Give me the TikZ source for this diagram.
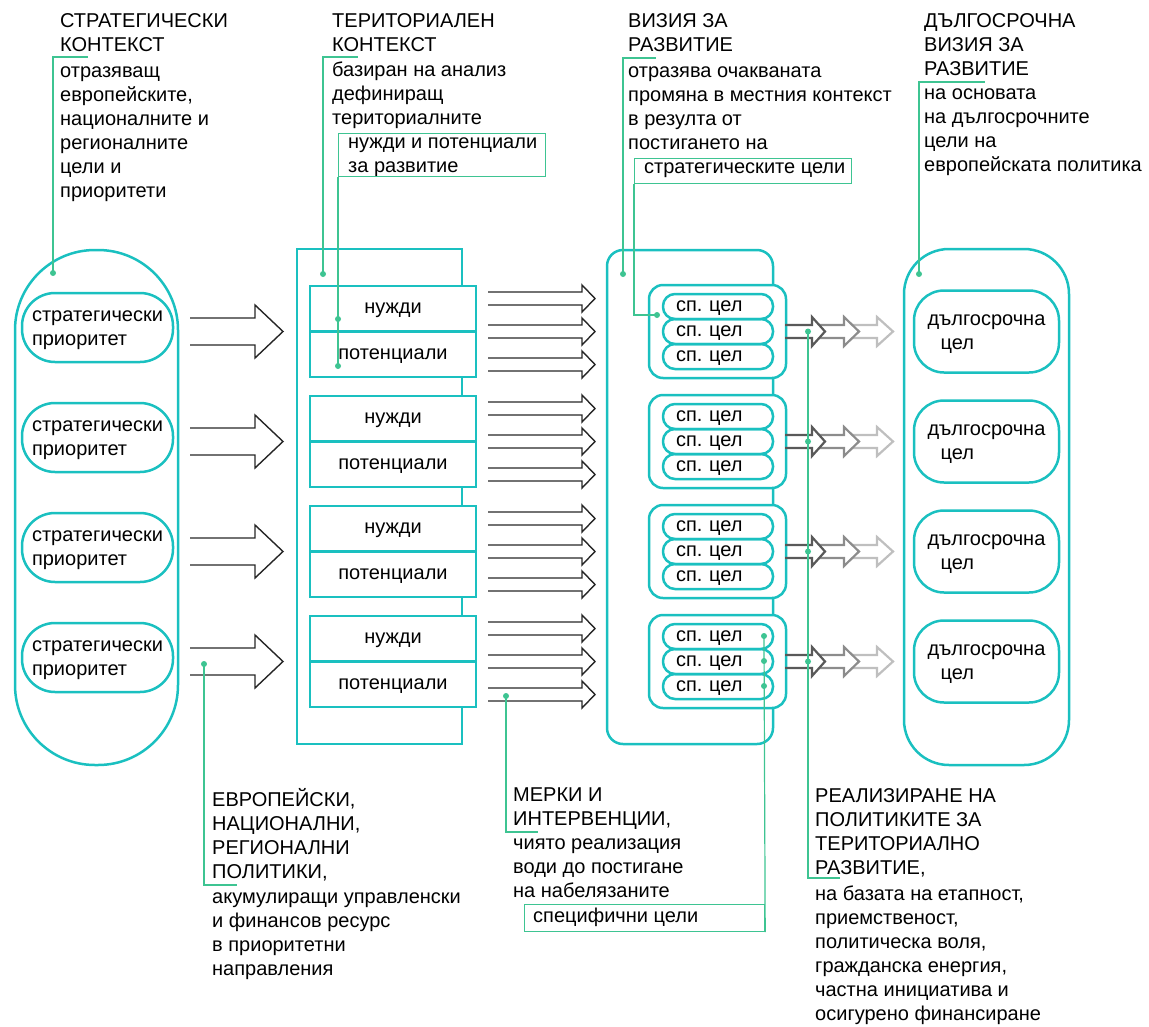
\documentclass[tikz,border=0pt]{standalone}
\usepackage{fontspec}
\setmainfont{Liberation Sans}
\usepackage{tikz}

\definecolor{ctxteal}{RGB}{26,192,192}
\definecolor{leadgreen}{RGB}{62,196,146}

% open-tailed block arrow: start x, head base x, tip x, y, half shaft, half head
\newcommand{\openarrow}[6]{(#1,#4-#5) -- (#2,#4-#5) -- (#2,#4-#6) -- (#3,#4) -- (#2,#4+#6) -- (#2,#4+#5) -- (#1,#4+#5)}

\begin{document}
\begin{tikzpicture}[x=1pt, y=-1pt, font=\fontsize{20}{24}\selectfont,
	frame/.style={draw=ctxteal, line width=2.5pt},
	prio/.style={frame, rounded corners=33pt, minimum width=151pt, minimum height=69pt, align=left, text height=39.6pt},
	cell/.style={frame, fill=white, minimum width=166pt, minimum height=45.5pt, text height=13pt, text depth=3pt},
	grp/.style={frame, fill=white, rounded corners=14pt, minimum width=137pt, minimum height=93pt},
	goal/.style={frame, rounded corners=12pt, minimum width=110pt, minimum height=25pt, inner xsep=13pt, inner ysep=0pt, text width=84pt, align=left, text height=13pt, text depth=3pt},
	ltgoal/.style={frame, rounded corners=30pt, minimum width=145pt, minimum height=82pt, align=left, text height=39.6pt},
	note/.style={anchor=north west, align=left, inner sep=0pt},
	lead/.style={draw=leadgreen, line width=1.2pt},
	leadbox/.style={lead, anchor=north west, inner sep=0pt},
	leaddot/.style={circle, fill=leadgreen, inner sep=0pt, minimum size=6pt},
	hollow/.style={draw=black!85, line width=1.4pt, line join=miter},
	fade/.style={hollow, line width=2.2pt, draw=black!#1},
]
		\useasboundingbox (0,0) rectangle (1149,1026);
		%
		\node[frame, rounded corners=80pt, minimum width=163pt, minimum height=515pt] (stratcol) at (96.5,507.5) {};
		\node[frame, minimum width=165pt, minimum height=495pt] (tercol) at (379.5,496.5) {};
		\node[frame, rounded corners=16pt, minimum width=166pt, minimum height=494pt] (viscol) at (690,497) {};
		\node[frame, rounded corners=45pt, minimum width=165pt, minimum height=516pt] (ltcol) at (986.5,507) {};
		%
		\foreach \k in {0,...,3} {
			\pgfmathsetmacro\yc{331.5+110*\k}
			\node[prio] (prio\k) at (97.5,\yc-4) {стратегически\\приоритет};
			\node[cell] (need\k) at (393,\yc-22.75) {нужди};
			\node[cell] (pot\k) at (393,\yc+22.75) {потенциали};
			\node[grp] (grp\k) at (717.5,\yc) {};
			\foreach \j in {-1,0,1}
				\node[goal] (sp\k\j) at (718,\yc+25*\j) {сп.\ цел};
			\node[ltgoal] (lt\k) at (986.5,\yc) {дългосрочна\\\hspace*{13pt}цел};
			%
			\draw[hollow] \openarrow{190}{255}{283}{\yc}{13.5}{26.5};
			\foreach \d in {-33,0,33}
				\draw[hollow] \openarrow{488}{582}{595}{\yc+\d}{6.5}{13.5};
			\draw[fade=25] \openarrow{852}{877}{893}{\yc}{6.5}{14.5};
			\draw[fade=45] \openarrow{819}{844}{859}{\yc}{6.5}{14.5};
			\draw[fade=65] \openarrow{785}{812}{825}{\yc}{6.5}{14.5};
		}
		%
		\node[note] (stratctx) at (60,10) {\strut СТРАТЕГИЧЕСКИ\\КОНТЕКСТ\\[2pt]отразяващ\\европейските,\\националните и\\регионалните\\цели и\\приоритети};
		\node[note] (terctx) at (332,10) {\strut ТЕРИТОРИАЛЕН\\КОНТЕКСТ\\[1pt]базиран на анализ\\дефиниращ\\териториалните};
		\node[note] (needtxt) at (348,131) {\strut нужди и потенциали\\за развитие};
		\node[note] (visctx) at (628,10) {\strut ВИЗИЯ ЗА\\РАЗВИТИЕ\\[2pt]отразява очакваната\\промяна в местния контекст\\в резулта от\\постигането на};
		\node[note] (sgtxt) at (644,156) {\strut стратегическите цели};
		\node[note] (ltctx) at (924,10) {\strut ДЪЛГОСРОЧНА\\ВИЗИЯ ЗА\\РАЗВИТИЕ\\на основата\\на дългосрочните\\цели на\\европейската политика};
		\node[note] (eupol) at (212,788) {\strut ЕВРОПЕЙСКИ,\\НАЦИОНАЛНИ,\\РЕГИОНАЛНИ\\ПОЛИТИКИ,\\[1pt]акумулиращи управленски\\и финансов ресурс\\в приоритетни\\направления};
		\node[note] (measures) at (513,784) {\strut МЕРКИ И\\ИНТЕРВЕНЦИИ,\\чиято реализация\\води до постигане\\на набелязаните};
		\node[note] (sptxt) at (533,905) {\strut специфични цели};
		\node[note] (policy) at (815,785) {\strut РЕАЛИЗИРАНЕ НА\\ПОЛИТИКИТЕ ЗА\\ТЕРИТОРИАЛНО\\РАЗВИТИЕ,\\[2pt]на базата на етапност,\\приемственост,\\политическа воля,\\гражданска енергия,\\частна инициатива и\\осигурено финансиране};
		%
		\node[leaddot] (stratdot) at (53,273) {};
		\coordinate (stratend) at (88,57);
		\draw[lead] (stratdot.center) |- (stratend);
		%
		\node[leaddot] (terdot) at (323,274) {};
		\coordinate (terend) at (358,57);
		\draw[lead] (terdot.center) |- (terend);
		\node[leadbox, minimum width=207pt, minimum height=43pt] (needbox) at (338,133) {};
		\node[leaddot] (needdot) at (338,319) {};
		\node[leaddot] (potdot) at (338,366) {};
		\draw[lead] (needbox.south west) -- (potdot.center);
		%
		\node[leaddot] (visdot) at (623,274) {};
		\coordinate (visend) at (656,58);
		\draw[lead] (visdot.center) |- (visend);
		\node[leadbox, minimum width=217pt, minimum height=25pt] (sgbox) at (634,158) {};
		\node[leaddot] (sgdot) at (657,315) {};
		\draw[lead] (sgbox.south west) |- (sgdot.center);
		%
		\node[leaddot] (ltdot) at (919,274) {};
		\coordinate (ltend) at (985,82);
		\draw[lead] (ltdot.center) |- (ltend);
		%
		\node[leaddot] (eudot) at (204,664) {};
		\coordinate (euend) at (237,885);
		\draw[lead] (eudot.center) |- (euend);
		%
		\node[leaddot] (medot) at (506,696) {};
		\coordinate (meend) at (538,832);
		\draw[lead] (medot.center) |- (meend);
		\node[leadbox, minimum width=240pt, minimum height=27pt] (spbox) at (524,904) {};
		\foreach \j in {-1,0,1}
			\node[leaddot] (spdot\j) at (764,661+25*\j) {};
		\draw[lead] (spdot-1.center) -- (spbox.south east);
		%
		\foreach \k in {0,...,3}
			\node[leaddot] (poldot\k) at (808,331.5+110*\k) {};
		\coordinate (polend) at (840,878);
		\draw[lead] (poldot0.center) |- (polend);
\end{tikzpicture}
\end{document}
